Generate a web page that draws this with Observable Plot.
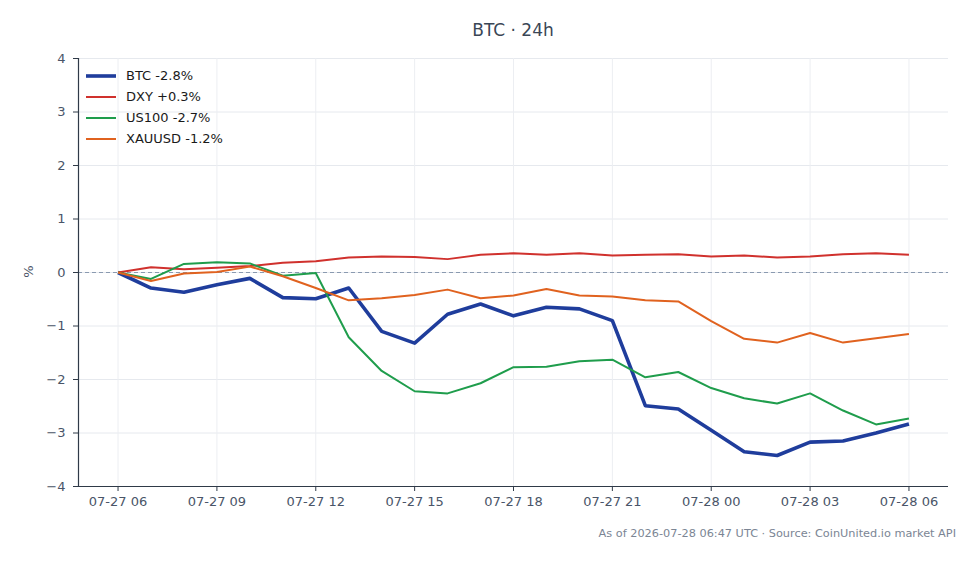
<!DOCTYPE html>
<html>
<head>
<meta charset="utf-8">
<script src="https://cdn.jsdelivr.net/npm/d3@7"></script>
<script src="https://cdn.jsdelivr.net/npm/@observablehq/plot@0.6"></script>
<style>
  html, body { margin: 0; padding: 0; background: #fff; }
  #wrap { position: relative; width: 980px; height: 564px; font-family: "DejaVu Sans", sans-serif; }
  #title { position: absolute; left: 78px; width: 870px; top: 20px; text-align: center; font-size: 17px; color: #3a4656; }
  #caption { position: absolute; right: 24px; top: 527px; font-size: 11.3px; color: #7b8594; }
  #ylabel { position: absolute; left: 22px; top: 264px; font-size: 13px; color: #4a5568; transform: rotate(-90deg); transform-origin: center; }
  #legend { position: absolute; left: 86px; top: 65px; font-size: 13px; color: #1a1a1a; }
  #legend .row { display: flex; align-items: center; height: 21px; }
  #legend svg { margin-right: 10px; }
  #chart { position: absolute; left: 0; top: 0; }
</style>
</head>
<body>
<div id="wrap">
  <div id="chart"></div>
  <div id="title">BTC · 24h</div>
  <div id="ylabel">%</div>
  <div id="legend"></div>
  <div id="caption">As of 2026-07-28 06:47 UTC · Source: CoinUnited.io market API</div>
</div>
<script>
// Hourly % change since 2026-07-27 06:00 UTC
const startTime = "2026-07-27T06:00:00Z";
const seriesNames = ["BTC", "DXY", "US100", "XAUUSD"];
const seriesColors = ["#1f3d9c", "#d0312d", "#1f9d4c", "#e0621f"];
const seriesWidths = [3.6, 2, 2, 2];

const btc    = [0, -0.29, -0.37, -0.23, -0.11, -0.47, -0.49, -0.29, -1.10, -1.32, -0.78, -0.59, -0.81, -0.65, -0.68, -0.90, -2.49, -2.55, -2.95, -3.35, -3.42, -3.17, -3.15, -3.00, -2.83];
const dxy    = [0, 0.10, 0.06, 0.09, 0.12, 0.18, 0.21, 0.28, 0.30, 0.29, 0.25, 0.33, 0.36, 0.33, 0.36, 0.32, 0.33, 0.34, 0.30, 0.32, 0.28, 0.30, 0.34, 0.36, 0.33];
const us100  = [0, -0.12, 0.16, 0.19, 0.17, -0.06, -0.01, -1.21, -1.84, -2.22, -2.26, -2.07, -1.77, -1.76, -1.66, -1.63, -1.96, -1.86, -2.16, -2.35, -2.45, -2.26, -2.58, -2.84, -2.73];
const xauusd = [0, -0.16, -0.02, 0.01, 0.11, -0.07, -0.29, -0.52, -0.48, -0.42, -0.32, -0.48, -0.43, -0.31, -0.43, -0.45, -0.52, -0.54, -0.91, -1.24, -1.31, -1.13, -1.31, -1.23, -1.15];
const legendLabels = ["BTC -2.8%", "DXY +0.3%", "US100 -2.7%", "XAUUSD -1.2%"];
const yTicks = [-4, -3, -2, -1, 0, 1, 2, 3, 4];

const allValues = [btc, dxy, us100, xauusd];
const t0 = new Date(startTime);
const times = btc.map((_, i) => d3.utcHour.offset(t0, i));
const rows = allValues.flatMap((vals, k) =>
  vals.map((v, i) => ({series: seriesNames[k], time: times[i], value: v}))
);

// 5% padding on each side of the time range
const span = times[times.length - 1] - times[0];
const xDomain = [new Date(+times[0] - span * 0.05), new Date(+times[times.length - 1] + span * 0.05)];

const chart = Plot.plot({
  width: 980,
  height: 564,
  marginTop: 58,
  marginBottom: 78,
  marginLeft: 78,
  marginRight: 32,
  style: {fontFamily: "DejaVu Sans, sans-serif", fontSize: "13px", color: "#4a5568", background: "transparent"},
  x: {type: "utc", domain: xDomain},
  y: {domain: [-4, 4]},
  marks: [
    Plot.gridY(yTicks, {stroke: "#e6e9ee", strokeOpacity: 1}),
    Plot.gridX({ticks: d3.utcHour.every(3), stroke: "#eceef2", strokeOpacity: 1}),
    Plot.ruleY([0], {stroke: "#8a9ab0", strokeWidth: 1, strokeDasharray: "4,3"}),
    ...seriesNames.map((name, k) =>
      Plot.line(rows.filter(d => d.series === name), {
        x: "time", y: "value",
        stroke: seriesColors[k], strokeWidth: seriesWidths[k],
        strokeLinejoin: "round", strokeLinecap: "butt"
      })
    ),
    Plot.ruleX([xDomain[0]], {stroke: "#2f3a48", strokeWidth: 1.2}),
    Plot.ruleY([-4], {stroke: "#2f3a48", strokeWidth: 1.2}),
    Plot.axisY(yTicks, {tickSize: 5, tickPadding: 8, stroke: "#2f3a48", label: null, fill: "#4a5568", tickFormat: d3.format("d")}),
    Plot.axisX({ticks: d3.utcHour.every(3), tickFormat: d3.utcFormat("%m-%d %H"), tickSize: 5, tickPadding: 5, stroke: "#2f3a48", label: null, fill: "#4a5568"})
  ]
});
document.getElementById("chart").appendChild(chart);

// Legend: line swatch + label per series
const legend = document.getElementById("legend");
seriesNames.forEach((name, k) => {
  const row = document.createElement("div");
  row.className = "row";
  row.innerHTML = `<svg width="30" height="8"><line x1="0" x2="30" y1="4" y2="4" stroke="${seriesColors[k]}" stroke-width="${seriesWidths[k]}"/></svg><span>${legendLabels[k]}</span>`;
  legend.appendChild(row);
});
</script>
</body>
</html>
